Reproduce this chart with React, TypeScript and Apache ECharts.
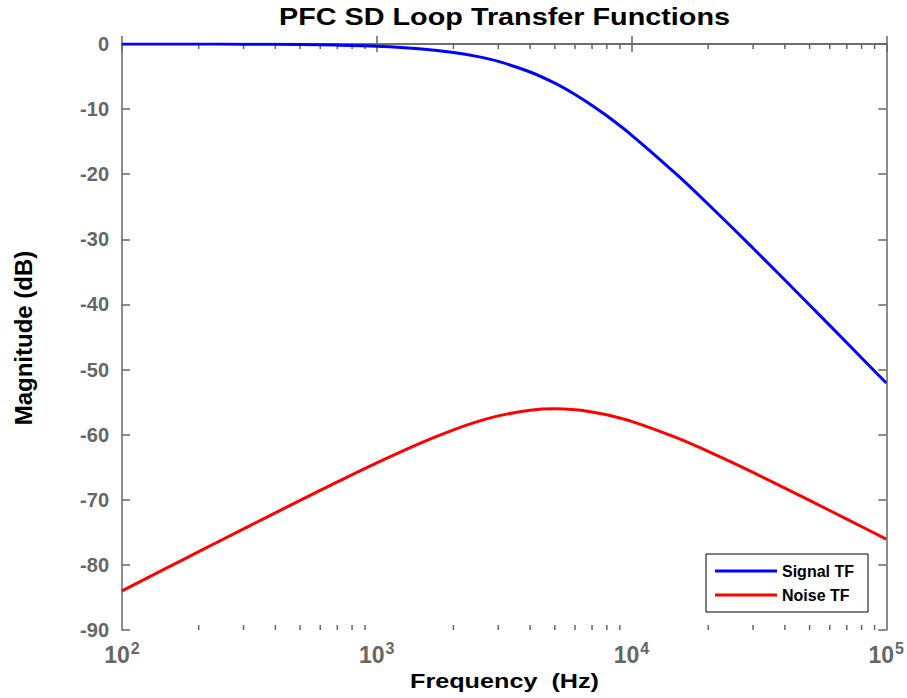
import React, { useEffect, useRef } from "react";
import * as echarts from "echarts";

const freqs = [100, 150, 200, 300, 500, 700, 1000, 1500, 2000, 2500, 3000, 4000, 5000, 6000, 7000, 8000, 10000, 15000, 20000, 30000, 50000, 70000, 100000];
const signalTF = [0.0, -0.01, -0.01, -0.03, -0.09, -0.17, -0.34, -0.75, -1.29, -1.94, -2.67, -4.3, -6.02, -7.75, -9.43, -11.03, -13.98, -20.0, -24.61, -31.36, -40.09, -45.89, -52.06];
const noiseTF = [-83.98, -80.47, -77.97, -74.47, -70.09, -67.25, -64.32, -61.21, -59.25, -57.96, -57.11, -56.24, -56.02, -56.17, -56.51, -56.95, -57.96, -60.46, -62.57, -65.8, -70.09, -72.97, -76.04];
const decades = [100, 1000, 10000];
const minorMult = [2, 3, 4, 5, 6, 7, 8, 9];

const AXIS_GRAY = "#666666";
const LABEL_GRAY = "#666666";
const FONT = "Liberation Sans, Arial, sans-serif";

export default function App() {
  const ref = useRef<HTMLDivElement>(null);
  useEffect(() => {
    if (!ref.current) return;
    const chart = echarts.init(ref.current, undefined, { renderer: "svg" });
    const minorTicks: number[] = [];
    decades.forEach((d) => minorMult.forEach((m) => minorTicks.push(d * m)));

    const gridLeft = 122, gridTop = 44, gridRight = 20, gridBottom = 68;
    const xMid = gridLeft + (907 - gridLeft - gridRight) / 2;

    const option: any = {
      animation: false,
      textStyle: { fontFamily: FONT },
      grid: { left: gridLeft, top: gridTop, right: gridRight, bottom: gridBottom, containLabel: false },
      graphic: [
        {
          type: "text",
          x: xMid,
          y: 17,
          scaleX: 1.2,
          style: { text: "PFC SD Loop Transfer Functions", fontSize: 24, fontWeight: "bold", fill: "#000", font: `bold 24px ${FONT}`, textAlign: "center", textVerticalAlign: "middle" },
        },
        {
          type: "text",
          x: xMid,
          y: 681,
          scaleX: 1.2,
          style: { text: "Frequency  (Hz)", fontSize: 21, fontWeight: "bold", fill: "#000", font: `bold 21px ${FONT}`, textAlign: "center", textVerticalAlign: "middle" },
        },
        {
          type: "text",
          x: 23,
          y: 338,
          rotation: Math.PI / 2,
          style: { text: "Magnitude (dB)", fontSize: 24, fontWeight: "bold", fill: "#000", font: `bold 24px ${FONT}`, textAlign: "center", textVerticalAlign: "middle" },
        },
      ],
      legend: {
        orient: "vertical",
        left: 706,
        top: 554,
        data: ["Signal TF", "Noise TF"],
        icon: "rect",
        itemWidth: 62,
        itemHeight: 3,
        itemGap: 6,
        padding: [8, 14, 8, 9],
        borderColor: "#000",
        borderWidth: 1,
        backgroundColor: "#fff",
        textStyle: { fontSize: 16, fontWeight: "bold", color: "#000", fontFamily: FONT, lineHeight: 18 },
      },
      xAxis: [
        {
          type: "log",
          logBase: 10,
          min: 100,
          max: 100000,
          position: "bottom",
          axisLine: { show: true, lineStyle: { color: AXIS_GRAY, width: 1.5 } },
          axisTick: { show: true, inside: true, length: 8, lineStyle: { color: AXIS_GRAY, width: 1.5 } },
          splitLine: { show: false },
          axisLabel: {
            margin: 10,
            formatter: (v: number) => `{b|10}{s|${Math.round(Math.log10(v))}}`,
            rich: {
              b: { fontSize: 23, fontWeight: "bold", color: LABEL_GRAY, fontFamily: FONT, verticalAlign: "bottom" },
              s: { fontSize: 16, fontWeight: "bold", color: LABEL_GRAY, fontFamily: FONT, verticalAlign: "bottom", padding: [0, 0, 10, 1] },
            },
          },
        },
        {
          type: "log",
          logBase: 10,
          min: 100,
          max: 100000,
          position: "top",
          axisLine: { show: true, lineStyle: { color: AXIS_GRAY, width: 1.5 } },
          axisTick: { show: true, inside: true, length: 8, lineStyle: { color: AXIS_GRAY, width: 1.5 } },
          splitLine: { show: false },
          axisLabel: { show: false },
        },
      ],
      yAxis: [
        {
          type: "value",
          min: -90,
          max: 0,
          interval: 10,
          position: "left",
          axisLine: { show: true, lineStyle: { color: AXIS_GRAY, width: 1.5 } },
          axisTick: { show: true, inside: true, length: 8, lineStyle: { color: AXIS_GRAY, width: 1.5 } },
          splitLine: { show: false },
          axisLabel: { margin: 13, fontSize: 20, fontWeight: "bold", color: LABEL_GRAY, fontFamily: FONT },
        },
        {
          type: "value",
          min: -90,
          max: 0,
          interval: 10,
          position: "right",
          axisLine: { show: true, lineStyle: { color: AXIS_GRAY, width: 1.5 } },
          axisTick: { show: true, inside: true, length: 8, lineStyle: { color: AXIS_GRAY, width: 1.5 } },
          splitLine: { show: false },
          axisLabel: { show: false },
        },
      ],
      series: [
        {
          name: "Signal TF",
          type: "line",
          data: freqs.map((f, i) => [f, signalTF[i]]),
          showSymbol: false,
          symbol: "none",
          smooth: 0.3,
          lineStyle: { color: "#0000ff", width: 3 },
          itemStyle: { color: "#0000ff" },
          z: 3,
        },
        {
          name: "Noise TF",
          type: "line",
          data: freqs.map((f, i) => [f, noiseTF[i]]),
          showSymbol: false,
          symbol: "none",
          smooth: 0.3,
          lineStyle: { color: "#ff0000", width: 3 },
          itemStyle: { color: "#ff0000" },
          z: 3,
        },
        {
          type: "custom",
          name: "minorTicks",
          silent: true,
          data: minorTicks.map((f) => [f, -90]),
          renderItem: (params: any, api: any) => {
            const f = api.value(0);
            const b = api.coord([f, -90]);
            const t = api.coord([f, 0]);
            const st = { stroke: AXIS_GRAY, lineWidth: 1.5 };
            return {
              type: "group",
              children: [
                { type: "line", shape: { x1: b[0], y1: b[1], x2: b[0], y2: b[1] - 5 }, style: st },
                { type: "line", shape: { x1: t[0], y1: t[1], x2: t[0], y2: t[1] + 5 }, style: st },
              ],
            };
          },
          z: 2,
        },
      ],
    };
    chart.setOption(option);
    return () => chart.dispose();
  }, []);
  return <div ref={ref} style={{ position: "fixed", left: 0, top: 0, width: 907, height: 698, background: "#fff" }} />;
}
